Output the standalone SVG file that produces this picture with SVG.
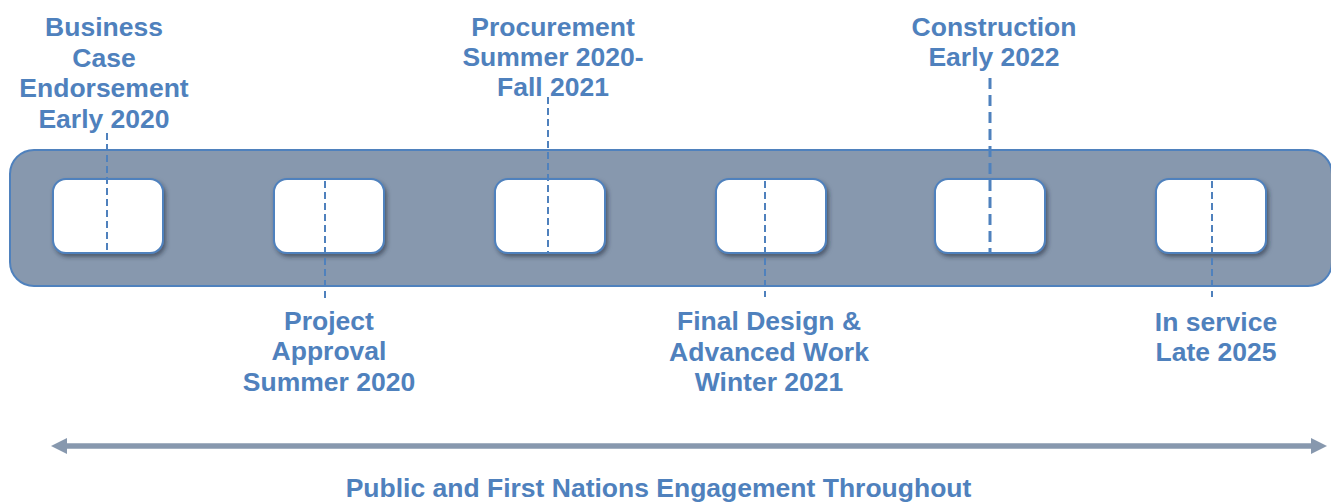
<svg xmlns="http://www.w3.org/2000/svg" width="1331" height="502" viewBox="0 0 1331 502">
  <style>
    .label { font-family: "Liberation Sans", Arial, sans-serif; font-weight: bold; font-size: 26.5px; fill: #4F81BD; text-anchor: middle; }
    .band { fill: #8798AE; stroke: #4F81BD; stroke-width: 2; }
    .box { fill: #FFFFFF; stroke: #4F81BD; stroke-width: 2; filter: url(#shadow); }
    .tick { stroke: #4F81BD; stroke-width: 2; stroke-dasharray: 7 4; fill: none; }
    .tick-strong { stroke: #4F81BD; stroke-width: 3; stroke-dasharray: 11 6; fill: none; }
    .span { stroke: #8798AE; stroke-width: 5.5; fill: none; }
  </style>
  <defs>
    <filter id="shadow" x="-20%" y="-20%" width="150%" height="160%">
      <feDropShadow dx="2" dy="3" stdDeviation="2" flood-color="#1F2A3A" flood-opacity="0.55"/>
    </filter>
    <marker id="head" viewBox="0 0 16 16" refX="1" refY="8" markerWidth="16" markerHeight="16" markerUnits="userSpaceOnUse" orient="auto-start-reverse">
      <path d="M0,0 L16,8 L0,16 Z" fill="#8798AE"/>
    </marker>
  </defs>

  <!-- timeline band -->
  <rect id="band" class="band" x="10" y="150" width="1322" height="136" rx="24" ry="24"/>

  <!-- milestone boxes -->
  <g id="m1"><rect class="box" x="53" y="179" width="110" height="74" rx="13"/></g>
  <g id="m2"><rect class="box" x="274" y="179" width="110" height="74" rx="13"/></g>
  <g id="m3"><rect class="box" x="495" y="179" width="110" height="74" rx="13"/></g>
  <g id="m4"><rect class="box" x="716" y="179" width="110" height="74" rx="13"/></g>
  <g id="m5"><rect class="box" x="935" y="179" width="110" height="74" rx="13"/></g>
  <g id="m6"><rect class="box" x="1156" y="179" width="110" height="74" rx="13"/></g>

  <!-- leader lines and engagement span -->
  <g id="connectors">
    <line class="tick" x1="107" y1="133" x2="107" y2="253"/>
    <line class="tick" x1="325" y1="181" x2="325" y2="301"/>
    <line class="tick" x1="548" y1="97" x2="548" y2="253"/>
    <line class="tick" x1="765" y1="181" x2="765" y2="297"/>
    <line class="tick-strong" x1="990" y1="78" x2="990" y2="253"/>
    <line class="tick" x1="1212" y1="181" x2="1212" y2="297"/>
    <line class="span" x1="66" y1="446" x2="1312" y2="446" marker-start="url(#head)" marker-end="url(#head)"/>
  </g>

  <!-- milestone labels -->
  <g id="label1">
    <text class="label" x="104" y="36">Business</text>
    <text class="label" x="104" y="66.5">Case</text>
    <text class="label" x="104" y="97">Endorsement</text>
    <text class="label" x="104" y="127.5">Early 2020</text>
  </g>
  <g id="label2">
    <text class="label" x="329" y="329.5">Project</text>
    <text class="label" x="329" y="360">Approval</text>
    <text class="label" x="329" y="390.5">Summer 2020</text>
  </g>
  <g id="label3">
    <text class="label" x="553" y="36">Procurement</text>
    <text class="label" x="553" y="66">Summer 2020-</text>
    <text class="label" x="553" y="96">Fall 2021</text>
  </g>
  <g id="label4">
    <text class="label" x="769" y="330">Final Design &amp;</text>
    <text class="label" x="769" y="360.5">Advanced Work</text>
    <text class="label" x="769" y="391">Winter 2021</text>
  </g>
  <g id="label5">
    <text class="label" x="994" y="36">Construction</text>
    <text class="label" x="994" y="66">Early 2022</text>
  </g>
  <g id="label6">
    <text class="label" x="1216" y="330.5">In service</text>
    <text class="label" x="1216" y="361">Late 2025</text>
  </g>
  <g id="engagement">
    <text class="label" x="658.5" y="497">Public and First Nations Engagement Throughout</text>
  </g>
</svg>
